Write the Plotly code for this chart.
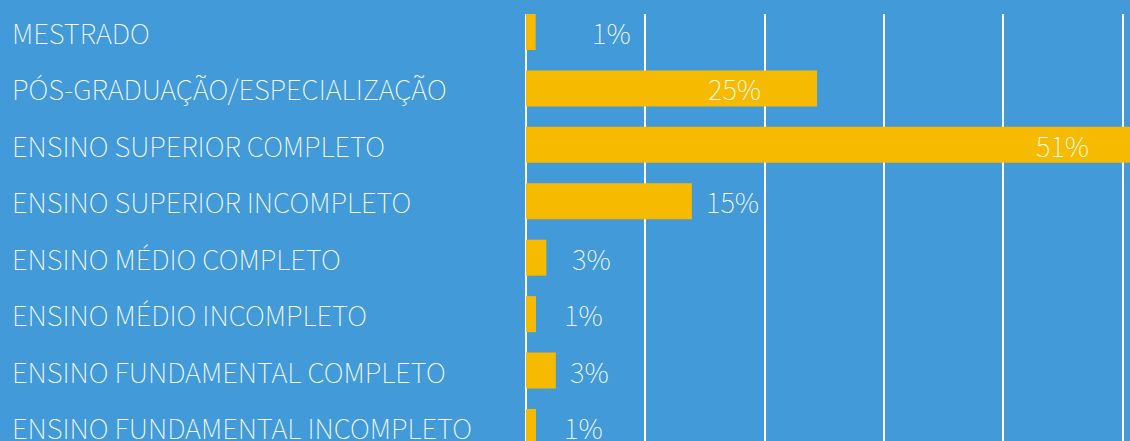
import plotly.graph_objects as go

categories = ["MESTRADO", "PÓS-GRADUAÇÃO/ESPECIALIZAÇÃO", "ENSINO SUPERIOR COMPLETO",
              "ENSINO SUPERIOR INCOMPLETO", "ENSINO MÉDIO COMPLETO", "ENSINO MÉDIO INCOMPLETO",
              "ENSINO FUNDAMENTAL COMPLETO", "ENSINO FUNDAMENTAL INCOMPLETO"]
# bar lengths as drawn, labels as printed
values = [0.81, 24.4, 51, 13.9, 1.7, 0.84, 2.5, 0.84]
labels = ["1%", "25%", "51%", "15%", "3%", "1%", "3%", "1%"]

# pixel offset of each percent label from the bar end (negative = inside the bar)
label_shift = [54, -54, -43, 12, 24, 26, 12, 26]

BG = "#429bd8"
BAR = "#f6bb00"
FONT = "Noto Sans CJK SC"
WEIGHT = 100
SIZE = 27.6

W, H = 1130, 441
left = 526
plot_w = W - left
top = 14
pitch = 56.43
xmax = plot_w / 11.93

y_idx = list(range(len(categories)))

fig = go.Figure(go.Bar(x=values, y=y_idx, orientation="h", width=36 / pitch,
                       marker=dict(color=BAR, line=dict(width=0)), hoverinfo="skip"))

r0 = -(32 - top) / pitch
r1 = r0 + (H - top) / pitch

annotations = []
for i, cat in enumerate(categories):
    annotations.append(dict(x=-(left - 10) / plot_w, xref="paper", y=i, yref="y", text=cat,
                            showarrow=False, xanchor="left", yanchor="middle",
                            font=dict(family=FONT, size=SIZE, color="white", weight=WEIGHT)))
    s = label_shift[i]
    xv = min(values[i], xmax)
    if values[i] > xmax:
        s += (values[i] - xmax) * 11.93
    annotations.append(dict(x=xv, xref="x", y=i, yref="y", text=labels[i], showarrow=False,
                            xanchor="left" if s > 0 else "right", yanchor="middle", xshift=s,
                            font=dict(family=FONT, size=SIZE, color="white", weight=WEIGHT)))

fig.update_layout(
    width=W, height=H, margin=dict(l=left, r=0, t=0, b=0),
    paper_bgcolor=BG, plot_bgcolor=BG, showlegend=False,
    xaxis=dict(range=[0, xmax], tickvals=[0, 10, 20, 30, 40, 50], showticklabels=False,
               showgrid=True, gridcolor="white", gridwidth=1.5, zeroline=True, zerolinecolor="white",
               zerolinewidth=2, fixedrange=True),
    yaxis=dict(range=[r1, r0], domain=[0, (H - top) / H], showticklabels=False, showgrid=False,
               zeroline=False, fixedrange=True),
    annotations=annotations,
)

fig.write_html("out.html", config=dict(displayModeBar=False),
               post_script="document.body.style.margin='0';document.body.style.background='%s';" % BG)
